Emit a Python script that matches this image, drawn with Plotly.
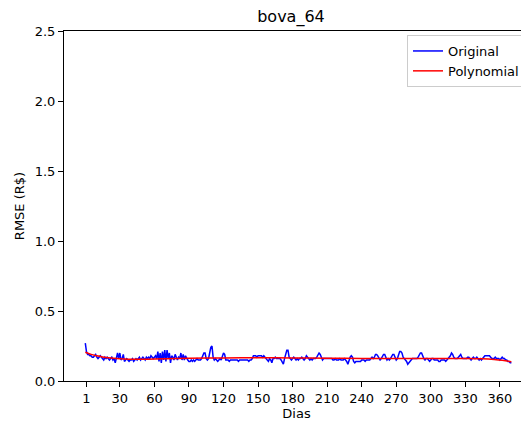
import plotly.graph_objects as go

# Original RMSE per day (index 0..370)
original = [
    0.27, 0.21, 0.19, 0.19, 0.18, 0.18, 0.17, 0.17, 0.18, 0.19,
    0.17, 0.16, 0.17, 0.18, 0.17, 0.16, 0.15, 0.17, 0.16, 0.17,
    0.16, 0.15, 0.16, 0.17, 0.15, 0.16, 0.13, 0.18, 0.20, 0.16,
    0.20, 0.15, 0.16, 0.19, 0.14, 0.15, 0.16, 0.15, 0.14, 0.15,
    0.15, 0.16, 0.14, 0.15, 0.16, 0.15, 0.16, 0.17, 0.15, 0.16,
    0.17, 0.16, 0.15, 0.17, 0.16, 0.17, 0.16, 0.18, 0.17, 0.16,
    0.17, 0.18, 0.16, 0.21, 0.14, 0.20, 0.13, 0.21, 0.15, 0.22,
    0.14, 0.22, 0.16, 0.20, 0.13, 0.18, 0.17, 0.15, 0.19, 0.16,
    0.15, 0.17, 0.16, 0.20, 0.15, 0.19, 0.15, 0.18, 0.16, 0.15,
    0.14, 0.14, 0.15, 0.14, 0.15, 0.14, 0.15, 0.16, 0.15, 0.15,
    0.15, 0.16, 0.19, 0.20, 0.20, 0.16, 0.15, 0.16, 0.20, 0.24,
    0.25, 0.17, 0.15, 0.16, 0.15, 0.14, 0.15, 0.16, 0.15, 0.17,
    0.20, 0.19, 0.15, 0.15, 0.15, 0.14, 0.15, 0.15, 0.15, 0.15,
    0.15, 0.15, 0.15, 0.14, 0.15, 0.15, 0.15, 0.15, 0.15, 0.15,
    0.15, 0.15, 0.14, 0.15, 0.15, 0.16, 0.18, 0.18, 0.18, 0.17,
    0.18, 0.18, 0.18, 0.18, 0.17, 0.18, 0.17, 0.16, 0.15, 0.14,
    0.16, 0.15, 0.13, 0.16, 0.16, 0.17, 0.16, 0.16, 0.16, 0.16,
    0.15, 0.13, 0.12, 0.16, 0.19, 0.22, 0.22, 0.17, 0.16, 0.15,
    0.16, 0.17, 0.16, 0.15, 0.16, 0.15, 0.16, 0.16, 0.17, 0.16,
    0.15, 0.16, 0.18, 0.17, 0.16, 0.15, 0.16, 0.15, 0.16, 0.16,
    0.16, 0.17, 0.19, 0.20, 0.19, 0.16, 0.15, 0.16, 0.16, 0.16,
    0.16, 0.16, 0.16, 0.16, 0.16, 0.15, 0.15, 0.16, 0.15, 0.15,
    0.15, 0.16, 0.15, 0.15, 0.15, 0.16, 0.15, 0.14, 0.12, 0.15,
    0.17, 0.18, 0.17, 0.14, 0.13, 0.14, 0.14, 0.14, 0.14, 0.14,
    0.15, 0.15, 0.15, 0.14, 0.15, 0.15, 0.15, 0.15, 0.16, 0.17,
    0.16, 0.17, 0.19, 0.19, 0.18, 0.16, 0.15, 0.16, 0.18, 0.19,
    0.19, 0.17, 0.15, 0.16, 0.15, 0.16, 0.18, 0.19, 0.19, 0.17,
    0.15, 0.16, 0.19, 0.21, 0.21, 0.20, 0.17, 0.16, 0.15, 0.14,
    0.12, 0.13, 0.14, 0.15, 0.16, 0.16, 0.16, 0.16, 0.16, 0.17,
    0.19, 0.20, 0.20, 0.17, 0.16, 0.15, 0.16, 0.16, 0.15, 0.14,
    0.15, 0.16, 0.16, 0.15, 0.15, 0.15, 0.15, 0.14, 0.14, 0.15,
    0.15, 0.15, 0.15, 0.14, 0.15, 0.16, 0.17, 0.18, 0.20, 0.19,
    0.17, 0.16, 0.16, 0.16, 0.17, 0.18, 0.19, 0.17, 0.16, 0.16,
    0.16, 0.16, 0.17, 0.17, 0.16, 0.15, 0.16, 0.17, 0.16, 0.16,
    0.17, 0.16, 0.15, 0.16, 0.15, 0.16, 0.17, 0.18, 0.18, 0.18,
    0.18, 0.18, 0.17, 0.16, 0.16, 0.16, 0.17, 0.16, 0.16, 0.16,
    0.15, 0.16, 0.17, 0.16, 0.16, 0.15, 0.15, 0.14, 0.14, 0.13,
    0.13,
]
days = list(range(len(original)))

# Polynomial fit, read at knots
poly_days = [0, 5, 10, 15, 20, 30, 45, 60, 90, 120, 150, 180, 210, 240, 270, 300, 330, 345, 355, 362, 370]
poly_vals = [0.205, 0.19, 0.18, 0.172, 0.166, 0.159, 0.155, 0.157, 0.162, 0.165, 0.166, 0.165, 0.163,
             0.161, 0.160, 0.160, 0.161, 0.159, 0.154, 0.148, 0.137]

tick_vals = [1, 30, 60, 90, 120, 150, 180, 210, 240, 270, 300, 330, 360]
tick_text = [str(v) for v in tick_vals]
y_ticks = [0.0, 0.5, 1.0, 1.5, 2.0, 2.5]

fig = go.Figure()
fig.add_trace(go.Scatter(x=days, y=original, mode="lines", name="Original",
                         line=dict(color="blue", width=1.5)))
fig.add_trace(go.Scatter(x=poly_days, y=poly_vals, mode="lines", name="Polynomial",
                         line=dict(color="red", width=1.5, shape="spline")))

# page has an 8px body margin, so the figure is 8px smaller and offset
W, H = 521, 416
L, T, B = 56, 23, 43
font = "DejaVu Sans, sans-serif"
fig.update_layout(
    width=W, height=H,
    margin=dict(l=L, r=0, t=T, b=B, autoexpand=False),
    plot_bgcolor="white", paper_bgcolor="white",
    font=dict(family=font, size=13, color="black"),
    title=dict(text="bova_64", x=283 / W, xanchor="center", y=1 - 8 / H, yanchor="middle",
               font=dict(size=16, color="black")),
    showlegend=True,
    legend=dict(x=(399 - L) / (W - L), y=(H - B - 27) / (H - T - B), xanchor="left", yanchor="top",
                bordercolor="#cccccc", borderwidth=1, bgcolor="rgba(255,255,255,0.8)",
                font=dict(size=13), tracegroupgap=0, itemwidth=30),
    xaxis=dict(range=[-18.5, 385.3], tickmode="array", tickvals=tick_vals, ticktext=tick_text,
               automargin=False,
               showline=True, linecolor="black", linewidth=1, mirror=True,
               ticks="outside", ticklen=5, tickcolor="black", showgrid=False, zeroline=False,
               title=dict(text="Dias", font=dict(size=13), standoff=4)),
    yaxis=dict(range=[0, 2.5], tickmode="array", tickvals=y_ticks,
               ticktext=[f"{v:.1f}" for v in y_ticks], automargin=False,
               showline=True, linecolor="black", linewidth=1, mirror=False,
               ticks="outside", ticklen=5, tickcolor="black", showgrid=False, zeroline=False,
               title=dict(text="RMSE (R$)", font=dict(size=13), standoff=7)),
)

fig.write_html("out.html")
